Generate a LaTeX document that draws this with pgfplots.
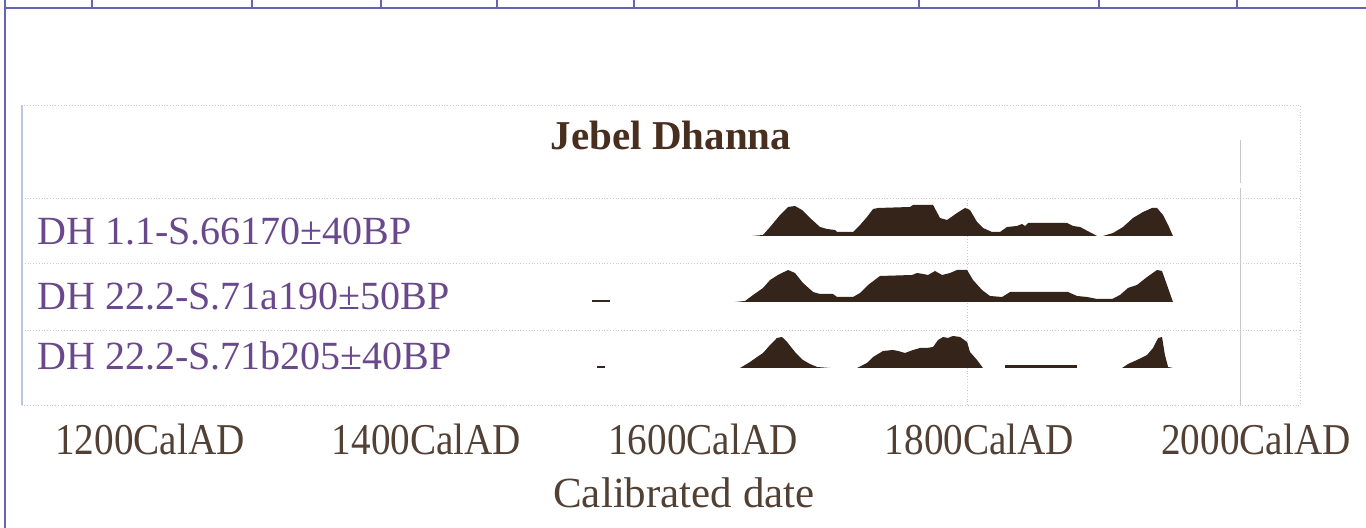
\documentclass[border=0pt]{standalone}
\usepackage{pgfplots}
\pgfplotsset{compat=1.18}
\usepackage{fontspec}
\setmainfont{Liberation Serif}
\usepackage{graphicx}

\definecolor{tableblue}{RGB}{100,100,180}
\definecolor{framecol}{RGB}{185,200,225}
\definecolor{gridcol}{RGB}{200,200,205}
\definecolor{labelpurple}{RGB}{106,72,140}
\definecolor{tickbrown}{RGB}{82,64,52}
\definecolor{titlebrown}{RGB}{72,46,30}
\definecolor{distfill}{RGB}{52,36,26}

% row baselines (in the axis' y units)
\def\rowA{292}
\def\rowB{226}
\def\rowC{160}
\newcommand{\calad}[1]{\scalebox{0.89}[1]{#1CalAD}}

\begin{document}
\begin{tikzpicture}
\useasboundingbox (0,0) rectangle (683pt,264pt);
\begin{axis}[
    at={(11pt,61.5pt)}, anchor=south west,
    width=639pt, height=150pt, scale only axis,
    xmin=1107.4, xmax=2031.8,
    ymin=123, ymax=423,
    axis line style={draw=gridcol, densely dotted},
    ytick=\empty,
    xtick={1200,1400,1600,1800,2000},
    xticklabels={\calad{1200},\calad{1400},\calad{1600},\calad{1800},\calad{2000}},
    major tick length=0pt,
    xticklabel style={anchor=base, yshift=-25pt, text=tickbrown,
        font=\fontsize{22}{24}\selectfont},
    xlabel={Calibrated date},
    xlabel style={at={(axis description cs:0.518,0)}, anchor=base,
        yshift=-51.5pt, text=tickbrown, font=\fontsize{21.5}{24}\selectfont},
    clip=false,
]
% faint separators between rows
\draw[gridcol, densely dotted] (axis cs:1107.4,330) -- (axis cs:2031.8,330);
\draw[gridcol, densely dotted] (axis cs:1107.4,265) -- (axis cs:2031.8,265);
\draw[gridcol, densely dotted] (axis cs:1107.4,198) -- (axis cs:2031.8,198);
\draw[gridcol] (axis cs:1988.4,123) -- (axis cs:1988.4,340);
\draw[gridcol] (axis cs:1988.4,345) -- (axis cs:1988.4,388);
\draw[gridcol, densely dotted] (axis cs:1790.9,123) -- (axis cs:1790.9,330);
\draw[framecol, line width=1.2pt] (axis cs:1107.4,123) -- (axis cs:1107.4,423);

% DH 1.1-S.66
\addplot[fill=distfill, draw=none] table[x=year, y expr=\thisrow{h}+\rowA] {
year h
1635.4 0
1643.4 1
1648.5 9
1655.7 21
1661.5 29
1666.5 30
1671.6 26
1677.4 18
1684.6 9
1689.7 7
1695.5 6
1696.9 4
1708.5 4
1713.6 11
1718.6 19
1723.0 27
1726.6 28
1749.7 29
1751.9 31
1766.4 31
1771.4 18
1776.5 16
1783.7 23
1789.5 28
1793.1 26
1798.2 14
1802.5 8
1809.0 4
1814.8 4
1819.9 9
1827.1 10
1830.7 12
1832.9 10
1835.1 13
1863.3 13
1867.6 10
1872.7 9
1885.0 0
};
\addplot[fill=distfill, draw=none] table[x=year, y expr=\thisrow{h}+\rowA] {
year h
1889.3 0
1896.6 3
1903.8 9
1911.0 18
1918.3 24
1924.8 28
1928.4 28
1932.7 21
1936.4 11
1939.9 0
};

% DH 22.2-S.71a
\addplot[fill=distfill, draw=none] table[x=year, y expr=\thisrow{h}+\rowB] {
year h
1519.7 0
1519.7 2
1532.7 2
1532.7 0
};
\addplot[fill=distfill, draw=none] table[x=year, y expr=\thisrow{h}+\rowB] {
year h
1623.1 0
1630.4 1
1636.2 7
1643.4 14
1648.5 22
1654.2 27
1661.5 32
1666.5 29
1672.3 19
1679.6 10
1684.6 8
1694.0 8
1696.9 5
1708.5 5
1713.6 9
1719.4 17
1728.0 26
1751.2 27
1754.8 29
1759.1 28
1762.8 27
1767.8 31
1772.9 27
1778.7 29
1783.7 32
1791.0 32
1795.3 22
1801.8 12
1807.6 6
1816.3 5
1822.1 10
1864.0 10
1870.5 6
1877.8 5
1885.0 3
1895.9 3
1901.6 7
1907.4 14
1913.9 17
1921.2 25
1928.4 32
1932.0 31
1935.6 17
1939.9 0
};

% DH 22.2-S.71b
\addplot[fill=distfill, draw=none] table[x=year, y expr=\thisrow{h}+\rowC] {
year h
1523.3 0
1523.3 1.5
1529.1 1.5
1529.1 0
};
\addplot[fill=distfill, draw=none] table[x=year, y expr=\thisrow{h}+\rowC] {
year h
1626.8 0
1634.0 6
1639.1 11
1643.4 15
1648.5 23
1653.5 30
1657.1 31
1660.8 26
1666.5 16
1672.3 8
1677.4 4
1682.5 1
1691.9 0
};
\addplot[fill=distfill, draw=none] table[x=year, y expr=\thisrow{h}+\rowC] {
year h
1711.4 0
1718.6 5
1723.0 11
1730.2 17
1737.4 18
1741.1 17
1746.1 15
1751.9 18
1757.0 20
1762.0 20
1766.4 21
1770.0 28
1773.6 31
1777.2 30
1780.8 32
1785.9 31
1791.0 26
1793.1 16
1798.2 8
1802.5 0
};
\addplot[fill=distfill, draw=none] table[x=year, y expr=\thisrow{h}+\rowC] {
year h
1818.4 0
1818.4 2.5
1870.5 2.5
1870.5 0
};
\addplot[fill=distfill, draw=none] table[x=year, y expr=\thisrow{h}+\rowC] {
year h
1903.1 0
1907.4 4
1913.9 8
1921.2 13
1925.5 20
1929.2 30
1932.0 31
1934.1 13
1936.4 1
1939.9 0
};
\end{axis}

% page elements in reference pixel units (origin top left)
\begin{scope}[yshift=264pt, x=0.5pt, y=-0.5pt]
\draw[tableblue, line width=1pt] (5,8.5) -- (1366,8.5);
\draw[tableblue, line width=1pt] (5,0) -- (5,528);
\foreach \xx in {92,252,381,497,634,919,1099,1237}
  \draw[tableblue, line width=1pt] (\xx,0) -- (\xx,8.5);
\node[anchor=base, text=titlebrown, font=\fontsize{20.5}{24}\selectfont\bfseries]
  at (671,150) {Jebel Dhanna};
\node[anchor=base west, inner sep=0pt, text=labelpurple, font=\fontsize{20}{24}\selectfont]
  at (37,245) {DH 1.1-S.66170±40BP};
\node[anchor=base west, inner sep=0pt, text=labelpurple, font=\fontsize{20}{24}\selectfont]
  at (37,310) {DH 22.2-S.71a190±50BP};
\node[anchor=base west, inner sep=0pt, text=labelpurple, font=\fontsize{20}{24}\selectfont]
  at (37,370) {DH 22.2-S.71b205±40BP};
\end{scope}
\end{tikzpicture}
\end{document}
